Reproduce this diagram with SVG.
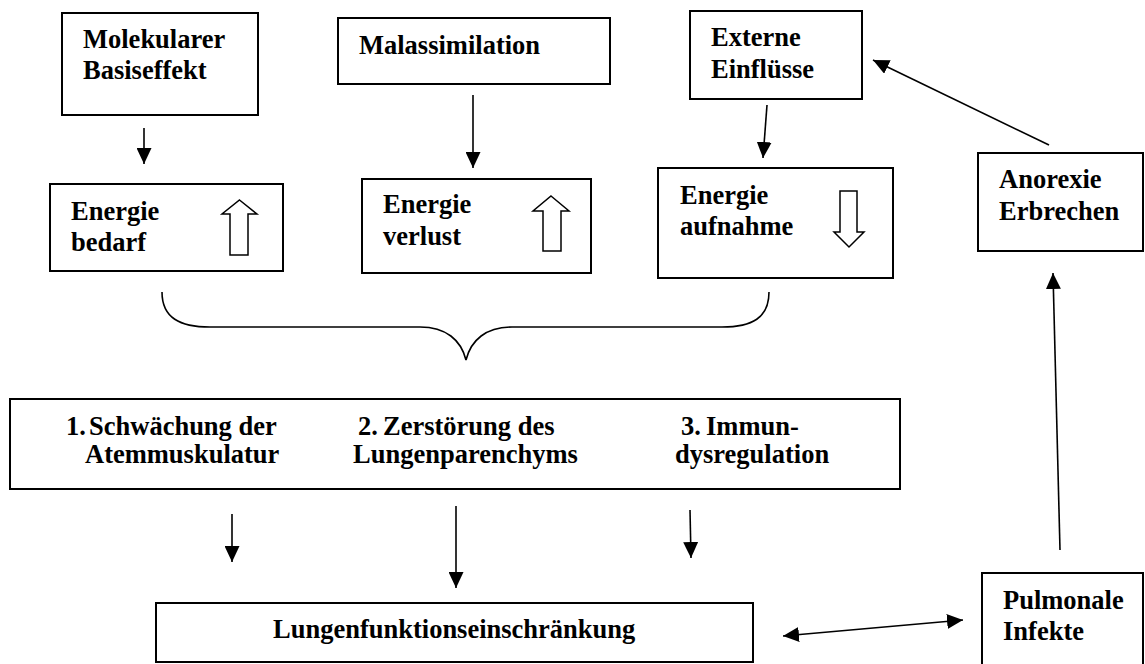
<svg xmlns="http://www.w3.org/2000/svg" width="1145" height="664" viewBox="0 0 1145 664">
<defs>
<style>
.box{fill:#fff;stroke:#000;stroke-width:2}
.t{font-family:"Liberation Serif","Times New Roman",serif;font-weight:bold;font-size:26.5px;fill:#000}
.c{fill:none;stroke:#000;stroke-width:1.6}
.blk{fill:#fff;stroke:#000;stroke-width:1.5}
</style>
<marker id="ah" markerUnits="userSpaceOnUse" markerWidth="16" markerHeight="15" refX="16" refY="7.5" orient="auto-start-reverse" viewBox="0 0 16 15">
<path d="M0,0 L16,7.5 L0,15 z" fill="#000"/>
</marker>
</defs>
<rect width="1145" height="664" fill="#fff"/>

<g id="n-molekular">
<rect class="box" x="62" y="13" width="196" height="102"/>
<text class="t" x="83" y="48">Molekularer</text>
<text class="t" x="83" y="79">Basiseffekt</text>
</g>
<g id="n-malassimilation">
<rect class="box" x="338" y="18" width="272" height="66"/>
<text class="t" x="359" y="54">Malassimilation</text>
</g>
<g id="n-extern">
<rect class="box" x="690" y="11" width="172" height="88"/>
<text class="t" x="711" y="46">Externe</text>
<text class="t" x="711" y="78">Einflüsse</text>
</g>
<g id="n-bedarf">
<rect class="box" x="50" y="184" width="233" height="87"/>
<text class="t" x="71" y="220">Energie</text>
<text class="t" x="71" y="251">bedarf</text>
<polygon class="blk" points="239.5,200 257,214 248,214 248,255 230,255 230,214 222,214"/>
</g>
<g id="n-verlust">
<rect class="box" x="362" y="179" width="229" height="94"/>
<text class="t" x="383" y="213">Energie</text>
<text class="t" x="383" y="245">verlust</text>
<polygon class="blk" points="551,196 569,211 561,211 561,251 543,251 543,211 533,211"/>
</g>
<g id="n-aufnahme">
<rect class="box" x="658" y="168" width="235" height="110"/>
<text class="t" x="680" y="204">Energie</text>
<text class="t" x="680" y="235">aufnahme</text>
<polygon class="blk" points="840,191 857,191 857,232 864,232 849,247 834,232 840,232"/>
</g>
<g id="n-anorexie">
<rect class="box" x="978" y="153" width="165" height="98"/>
<text class="t" x="999" y="188">Anorexie</text>
<text class="t" x="999" y="220">Erbrechen</text>
</g>
<g id="n-mechanismen">
<rect class="box" x="10" y="399" width="890" height="90"/>
<text class="t" y="435"><tspan x="66">1.</tspan><tspan x="89">Schwächung der</tspan></text>
<text class="t" x="85" y="463">Atemmuskulatur</text>
<text class="t" y="435"><tspan x="358">2.</tspan><tspan x="383">Zerstörung des</tspan></text>
<text class="t" x="353" y="463">Lungenparenchyms</text>
<text class="t" y="435"><tspan x="681">3.</tspan><tspan x="706">Immun-</tspan></text>
<text class="t" x="675" y="463">dysregulation</text>
</g>
<g id="n-lungenfunktion">
<rect class="box" x="156" y="603" width="597" height="59"/>
<text class="t" x="273" y="638">Lungenfunktionseinschränkung</text>
</g>
<g id="n-pulmonal">
<rect class="box" x="982" y="573" width="161" height="100"/>
<text class="t" x="1003" y="609">Pulmonale</text>
<text class="t" x="1003" y="640">Infekte</text>
</g>

<g id="connectors">
<path class="c" d="M162,292 C162,318 180,327 210,327 L420,327 C446,327 461,340 466,360 C471,340 486,327 512,327 L722,327 C752,327 769,318 769,292"/>
<line class="c" x1="144" y1="128" x2="144" y2="164" marker-end="url(#ah)"/>
<line class="c" x1="473" y1="95" x2="473" y2="168" marker-end="url(#ah)"/>
<line class="c" x1="767" y1="105" x2="763" y2="158" marker-end="url(#ah)"/>
<line class="c" x1="1049" y1="145" x2="873" y2="60" marker-end="url(#ah)"/>
<line class="c" x1="1060" y1="550" x2="1053" y2="273" marker-end="url(#ah)"/>
<line class="c" x1="232" y1="514" x2="232" y2="562" marker-end="url(#ah)"/>
<line class="c" x1="456" y1="506" x2="456" y2="588" marker-end="url(#ah)"/>
<line class="c" x1="690" y1="510" x2="691" y2="558" marker-end="url(#ah)"/>
<line class="c" x1="783" y1="636" x2="963" y2="620" marker-start="url(#ah)" marker-end="url(#ah)"/>
</g>
</svg>
